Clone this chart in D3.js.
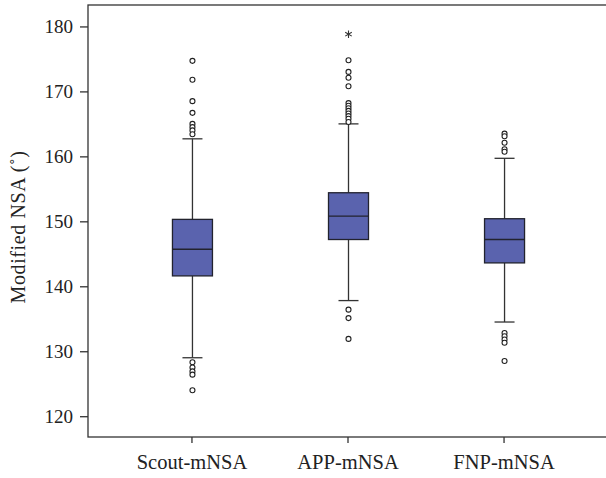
<!DOCTYPE html>
<html>
<head>
<meta charset="utf-8">
<script src="https://cdn.jsdelivr.net/npm/d3@7"></script>
<style>
  body { margin: 0; background: #fff; }
  text { font-family: "Liberation Serif", "DejaVu Serif", serif; fill: #222; }
</style>
</head>
<body>
<svg></svg>
<script>
let width = 606
let height = 478
let margin = {top: 5, left: 88, bottom: 437, right: 607}

let categories = ['Scout-mNSA', 'APP-mNSA', 'FNP-mNSA']
let q1 = [141.6, 147.2, 143.6]
let medians = [145.7, 150.8, 147.2]
let q3 = [150.3, 154.4, 150.4]
let whiskerLow = [129.0, 137.8, 134.5]
let whiskerHigh = [162.7, 165.0, 159.7]
let outliers = [
    [174.7, 171.8, 168.5, 166.7, 165.0, 164.5, 164.0, 163.4, 128.3, 127.5, 126.9, 126.4, 124.0],
    [174.8, 173.0, 172.1, 170.8, 168.2, 167.8, 167.4, 167.0, 166.6, 166.2, 165.8, 165.3, 136.4, 135.1, 131.9],
    [163.5, 163.1, 162.1, 161.1, 160.7, 132.8, 132.3, 131.8, 131.3, 128.5]
]
let extremes = [[], [178.8], []]
let yTicks = [120, 130, 140, 150, 160, 170, 180]

let svg = d3.select('svg').attr('width', width).attr('height', height)

let xScale = d3.scalePoint()
    .domain(categories)
    .range([margin.left, margin.right])
    .padding(0.663)

let yScale = d3.scaleLinear()
    .domain([116.8, 183.3])
    .range([margin.bottom, margin.top])

let boxWidth = 40

// frame
svg.append('rect')
    .attr('x', margin.left)
    .attr('y', margin.top)
    .attr('width', margin.right - margin.left)
    .attr('height', margin.bottom - margin.top)
    .attr('fill', 'none')
    .attr('stroke', '#333')
    .attr('stroke-width', 1.3)

let yAxis = d3.axisLeft(yScale).tickValues(yTicks).tickSize(8).tickPadding(7)
let gy = svg.append('g')
    .attr('transform', 'translate(' + margin.left + ',0)')
    .call(yAxis)
gy.select('.domain').remove()
gy.selectAll('line').attr('stroke', '#333').attr('stroke-width', 1.3)
gy.selectAll('text').style('font-size', '19px').attr('fill', '#222')

let xAxis = d3.axisBottom(xScale).tickSize(6).tickPadding(11)
let gx = svg.append('g')
    .attr('transform', 'translate(0,' + margin.bottom + ')')
    .call(xAxis)
gx.select('.domain').remove()
gx.selectAll('line').attr('stroke', '#333').attr('stroke-width', 1.3)
gx.selectAll('text').style('font-size', '20.5px').attr('fill', '#222')

svg.append('text')
    .attr('transform', 'translate(25,' + ((margin.top + margin.bottom) / 2 + 6) + ') rotate(-90)')
    .attr('text-anchor', 'middle')
    .style('font-size', '20px')
    .style('letter-spacing', '0.6px')
    .text('Modified NSA (˚)')

categories.forEach((cat, i) => {
    let cx = xScale(cat) + 1
    let g = svg.append('g')

    // whiskers
    g.append('line')
        .attr('x1', cx).attr('x2', cx)
        .attr('y1', yScale(whiskerHigh[i])).attr('y2', yScale(q3[i]))
        .attr('stroke', '#333').attr('stroke-width', 1.3)
    g.append('line')
        .attr('x1', cx).attr('x2', cx)
        .attr('y1', yScale(q1[i])).attr('y2', yScale(whiskerLow[i]))
        .attr('stroke', '#333').attr('stroke-width', 1.3)
    ;[whiskerHigh[i], whiskerLow[i]].forEach(v => {
        g.append('line')
            .attr('x1', cx - boxWidth / 4).attr('x2', cx + boxWidth / 4)
            .attr('y1', yScale(v)).attr('y2', yScale(v))
            .attr('stroke', '#333').attr('stroke-width', 1.3)
    })

    // box
    g.append('rect')
        .attr('x', cx - boxWidth / 2)
        .attr('y', yScale(q3[i]))
        .attr('width', boxWidth)
        .attr('height', yScale(q1[i]) - yScale(q3[i]))
        .attr('fill', '#5a63ae')
        .attr('stroke', '#22232e')
        .attr('stroke-width', 1.3)
    g.append('line')
        .attr('x1', cx - boxWidth / 2).attr('x2', cx + boxWidth / 2)
        .attr('y1', yScale(medians[i])).attr('y2', yScale(medians[i]))
        .attr('stroke', '#22232e').attr('stroke-width', 1.3)

    // outliers
    g.selectAll('circle')
        .data(outliers[i])
        .enter()
        .append('circle')
        .attr('cx', cx)
        .attr('cy', d => yScale(d))
        .attr('r', 2.5)
        .attr('fill', '#fff')
        .attr('stroke', '#222')
        .attr('stroke-width', 1.1)

    g.selectAll('path.extreme')
        .data(extremes[i])
        .enter()
        .append('path')
        .attr('class', 'extreme')
        .attr('transform', d => 'translate(' + cx + ',' + yScale(d) + ')')
        .attr('d', d3.symbol(d3.symbolAsterisk, 40))
        .attr('fill', 'none')
        .attr('stroke', '#333')
        .attr('stroke-width', 1.1)
})
</script>
</body>
</html>
